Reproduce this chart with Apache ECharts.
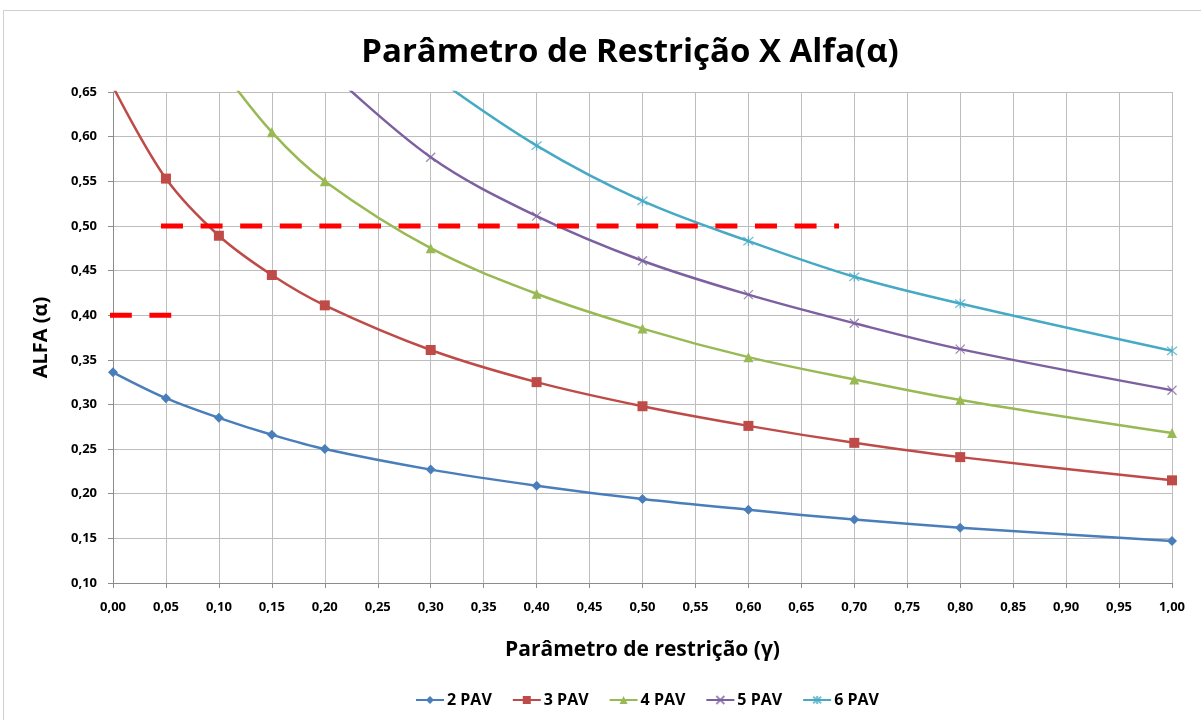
<!DOCTYPE html>
<html>
<head>
<meta charset="utf-8">
<title>Parâmetro de Restrição X Alfa(α)</title>
<script src="https://cdn.jsdelivr.net/npm/echarts@6/dist/echarts.min.js"></script>
<style>
  html, body { margin: 0; padding: 0; background: #ffffff; }
  #chart { width: 1201px; height: 720px; }
</style>
</head>
<body>
<div id="chart"></div>
<script>
// Restraint parameter (gamma) values where alpha was evaluated
const gamma2 = [0.00, 0.05, 0.10, 0.15, 0.20, 0.30, 0.40, 0.50, 0.60, 0.70, 0.80, 1.00];
const gamma3 = [0.00, 0.05, 0.10, 0.15, 0.20, 0.30, 0.40, 0.50, 0.60, 0.70, 0.80, 1.00];
const gamma4 = [0.10, 0.15, 0.20, 0.30, 0.40, 0.50, 0.60, 0.70, 0.80, 1.00];
const gamma5 = [0.20, 0.30, 0.40, 0.50, 0.60, 0.70, 0.80, 1.00];
const gamma6 = [0.30, 0.40, 0.50, 0.60, 0.70, 0.80, 1.00];

// Alpha values per number of floors (PAV)
const alpha2 = [0.336, 0.307, 0.285, 0.266, 0.250, 0.227, 0.209, 0.194, 0.182, 0.171, 0.162, 0.147];
const alpha3 = [0.656, 0.553, 0.489, 0.445, 0.411, 0.361, 0.325, 0.298, 0.276, 0.257, 0.241, 0.215];
const alpha4 = [0.680, 0.605, 0.550, 0.475, 0.424, 0.385, 0.353, 0.328, 0.305, 0.268];
const alpha5 = [0.678, 0.577, 0.511, 0.461, 0.423, 0.391, 0.362, 0.316];
const alpha6 = [0.670, 0.590, 0.528, 0.483, 0.443, 0.413, 0.360];

// Reference levels marked with dashed red lines: [gamma start, gamma end, alpha]
const refUpper = [0.0453, 0.6856, 0.50];
const refLower = [-0.003, 0.055, 0.40];

const seriesNames = ['2 PAV', '3 PAV', '4 PAV', '5 PAV', '6 PAV'];
const seriesColors = ['#4A7EBB', '#BE4B48', '#98B954', '#7D60A0', '#46AAC5'];

const FONT = '"Open Sans", "Liberation Sans", sans-serif';

const pair = (xs, ys) => xs.map((x, i) => [x, ys[i]]);
const fmt = v => v.toFixed(2).replace('.', ',');

const crossPath = 'path://M0,0L10,10M10,0L0,10';
const starPath = 'path://M0,0L10,10M10,0L0,10M5,-1L5,11';

const markerDefs = [
  { symbol: 'diamond', size: 10, stroke: false },
  { symbol: 'rect', size: 10, stroke: false },
  { symbol: 'triangle', size: 10, stroke: false },
  { symbol: crossPath, size: 9, stroke: true },
  { symbol: starPath, size: 10, stroke: true }
];

const curves = [pair(gamma2, alpha2), pair(gamma3, alpha3), pair(gamma4, alpha4),
                pair(gamma5, alpha5), pair(gamma6, alpha6)];

const series = curves.map((data, i) => {
  const c = seriesColors[i];
  const m = markerDefs[i];
  return {
    name: seriesNames[i],
    type: 'line',
    data: data,
    smooth: 0.35,
    clip: true,
    symbol: m.symbol,
    symbolSize: m.size,
    showAllSymbol: true,
    lineStyle: { color: c, width: 2.5 },
    itemStyle: m.stroke
      ? { color: c, borderColor: c, borderWidth: 1.3, opacity: 0.75 }
      : { color: c, borderWidth: 0 },
    emphasis: { disabled: true },
    z: 3 + i
  };
});

const dashStyle = { color: '#FF0000', width: 5, type: [22, 17.6], cap: 'butt' };
series.push({
  name: 'ref-upper',
  type: 'line',
  data: [[refUpper[0], refUpper[2]], [refUpper[1], refUpper[2]]],
  symbol: 'none',
  lineStyle: dashStyle,
  clip: false,
  silent: true,
  z: 10
});
series.push({
  name: 'ref-lower',
  type: 'line',
  data: [[refLower[0], refLower[2]], [refLower[1], refLower[2]]],
  symbol: 'none',
  lineStyle: dashStyle,
  clip: false,
  silent: true,
  z: 10
});

const chart = echarts.init(document.getElementById('chart'), null, { renderer: 'canvas' });

chart.setOption({
  backgroundColor: '#ffffff',
  animation: false,
  color: seriesColors,
  graphic: [
    {
      type: 'rect',
      shape: { x: 3.5, y: 10.5, width: 1220, height: 730 },
      style: { fill: 'none', stroke: '#CFCFCF', lineWidth: 1 },
      silent: true,
      z: -1
    },
    {
      type: 'text',
      x: 630,
      y: 53,
      style: {
        text: 'Parâmetro de Restrição X Alfa(α)',
        font: 'bold 33px ' + FONT,
        fill: '#000000',
        textAlign: 'center',
        textVerticalAlign: 'middle'
      },
      silent: true
    }
  ],
  grid: { left: 113, right: 29, top: 92, bottom: 137, containLabel: false },
  legend: {
    data: seriesNames,
    left: 410,
    top: 687,
    itemWidth: 28,
    itemHeight: 10,
    itemGap: 20,
    textStyle: { fontFamily: FONT, fontWeight: 'bold', fontSize: 16, color: '#000000', padding: [0, 0, 0, -2] }
  },
  xAxis: {
    type: 'value',
    min: 0,
    max: 1,
    interval: 0.05,
    name: 'Parâmetro de restrição (γ)',
    nameLocation: 'middle',
    nameGap: 57,
    nameTextStyle: { fontFamily: FONT, fontWeight: 'bold', fontSize: 21, color: '#000000' },
    axisLine: { show: true, onZero: false, lineStyle: { color: '#8C8C8C', width: 1 } },
    axisTick: { show: true, length: 5, lineStyle: { color: '#8C8C8C' } },
    axisLabel: {
      formatter: fmt,
      margin: 18,
      fontFamily: FONT,
      fontWeight: 'bold',
      fontSize: 13,
      color: '#000000'
    },
    splitLine: { show: true, lineStyle: { color: '#BDBDBD', width: 1 } }
  },
  yAxis: {
    type: 'value',
    min: 0.10,
    max: 0.65,
    interval: 0.05,
    name: 'ALFA (α)',
    nameLocation: 'middle',
    nameGap: 62,
    nameRotate: 90,
    nameTextStyle: { fontFamily: FONT, fontWeight: 'bold', fontSize: 20, color: '#000000' },
    axisLine: { show: true, onZero: false, lineStyle: { color: '#8C8C8C', width: 1 } },
    axisTick: { show: true, length: 5, lineStyle: { color: '#8C8C8C' } },
    axisLabel: {
      formatter: fmt,
      margin: 16,
      fontFamily: FONT,
      fontWeight: 'bold',
      fontSize: 13,
      color: '#000000'
    },
    splitLine: { show: true, lineStyle: { color: '#BDBDBD', width: 1 } }
  },
  series: series
});
</script>
</body>
</html>
